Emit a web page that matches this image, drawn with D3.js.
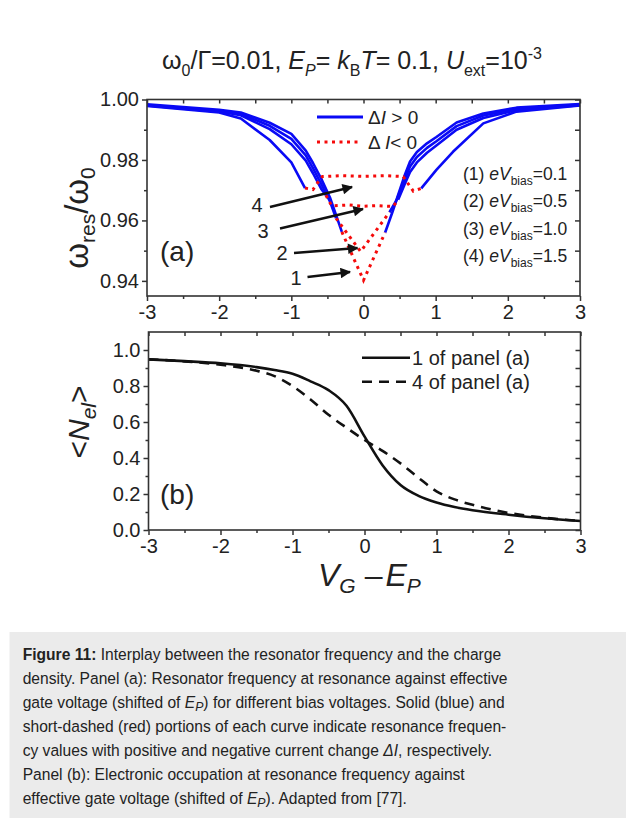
<!DOCTYPE html>
<html><head><meta charset="utf-8">
<script src="https://cdn.jsdelivr.net/npm/d3@7"></script>
<style>
html,body{margin:0;padding:0;background:#fff;}
svg{display:block;font-family:"Liberation Sans",Arial,sans-serif;}
</style></head><body>
<svg id="chart" width="626" height="818"></svg>
<script>
// ---------- data ----------
const xTicks = [-3, -2, -1, 0, 1, 2, 3];
const xMinor = [-2.5, -1.5, -0.5, 0.5, 1.5, 2.5];
const yTicksA = [0.94, 0.96, 0.98, 1.00];
const yMinorA = [0.95, 0.97, 0.99];
const yTicksB = [0.0, 0.2, 0.4, 0.6, 0.8, 1.0];
const yMinorB = [0.1, 0.3, 0.5, 0.7, 0.9];

// panel (a): blue = ΔI>0 portions, red = ΔI<0 portions
const c1BlueL = [[-3,0.9984],[-2,0.9966],[-1.7,0.9957],[-1.3,0.9923],[-1.0,0.9886],[-0.8,0.9831],[-0.7,0.9790],[-0.58,0.9735],[-0.46,0.9673],[-0.30,0.9562]];
const c1Red   = [[-0.30,0.9562],[0,0.9402],[0.30,0.9560]];
const c1BlueR = [[0.30,0.9560],[0.40,0.9627],[0.46,0.9670],[0.575,0.9752],[0.645,0.9795],[0.74,0.9826],[0.88,0.9855],[1.01,0.9876],[1.29,0.9924],[1.66,0.9954],[2.12,0.9973],[3,0.9985]];

const c2BlueL = [[-3,0.9982],[-2,0.9963],[-1.7,0.9953],[-1.3,0.9913],[-1.0,0.9870],[-0.8,0.9815],[-0.7,0.9773],[-0.58,0.9718],[-0.46,0.9660],[-0.38,0.9607]];
const c2Red   = [[-0.38,0.9607],[-0.04,0.9497],[0.36,0.9627]];
const c2BlueR = [[0.36,0.9627],[0.46,0.9668],[0.575,0.9738],[0.645,0.9778],[0.74,0.9810],[0.88,0.9840],[1.01,0.9862],[1.29,0.9912],[1.66,0.9947],[2.12,0.9969],[3,0.9983]];

const c3BlueL = [[-3,0.9980],[-2,0.9960],[-1.7,0.9948],[-1.3,0.9902],[-1.0,0.9852],[-0.8,0.9798],[-0.7,0.9756],[-0.58,0.9702],[-0.52,0.9683]];
const c3Red   = [[-0.52,0.9683],[-0.44,0.9648],[-0.2,0.9651],[0,0.9647],[0.2,0.9649],[0.41,0.9646],[0.48,0.9668]];
const c3BlueR = [[0.48,0.9668],[0.575,0.9722],[0.645,0.9760],[0.74,0.9792],[0.88,0.9824],[1.01,0.9848],[1.29,0.9900],[1.66,0.9939],[2.12,0.9965],[3,0.9981]];

const c4BlueL = [[-3,0.9979],[-2,0.9957],[-1.7,0.9937],[-1.3,0.9866],[-1.0,0.9792],[-0.81,0.9707]];
const c4Red   = [[-0.81,0.9707],[-0.70,0.9702],[-0.62,0.9730],[-0.57,0.9745],[-0.3,0.9748],[0,0.9746],[0.3,0.9748],[0.55,0.9745],[0.69,0.9697],[0.80,0.9706]];
const c4BlueR = [[0.80,0.9706],[1.01,0.9767],[1.24,0.9827],[1.66,0.9921],[2.12,0.9960],[3,0.9980]];

const biasLabels = ["0.1", "0.5", "1.0", "1.5"];
// arrows: [label, labelX, labelY, fromX, fromY, toX, toY] in data units
const arrowNotes = [
  ["4", -1.476, 0.9628, -1.296, 0.96444, -0.159, 0.97106],
  ["3", -1.393, 0.9542, -1.157, 0.95733, -0.007, 0.96378],
  ["2", -1.130, 0.9469, -0.963, 0.94922, -0.083, 0.95088],
  ["1", -0.935, 0.9386, -0.776, 0.94129, -0.187, 0.94294]
];

// panel (b): electronic occupation
const nX     = [-3, -2.5, -2, -1.5, -1.25, -1, -0.75, -0.5, -0.25, 0, 0.25, 0.5, 0.75, 1, 1.25, 1.5, 2, 2.5, 3];
const nSolid = [0.948, 0.938, 0.926, 0.905, 0.889, 0.868, 0.826, 0.777, 0.69, 0.52, 0.36, 0.25, 0.19, 0.153, 0.128, 0.11, 0.085, 0.065, 0.05];
const nDash  = [0.948, 0.937, 0.918, 0.885, 0.855, 0.80, 0.725, 0.64, 0.568, 0.50, 0.44, 0.37, 0.29, 0.215, 0.17, 0.14, 0.095, 0.068, 0.05];

// ---------- drawing ----------
const svg = d3.select("#chart");
const AX = "#333";
const BLUE = "#0a0af5", RED = "#f50a0a";

function rich(parent, x, y, segs, attrs) {
  const t = parent.append("text").attr("x", x).attr("y", y);
  Object.entries(attrs || {}).forEach(([k, v]) => t.attr(k, v));
  let cur = 0;
  segs.forEach(s => {
    const off = s.sh || 0;
    const ts = t.append("tspan").text(s.t).attr("dy", off - cur);
    cur = off;
    if (s.dx) ts.attr("dx", s.dx);
    if (s.size) ts.attr("font-size", s.size);
    if (s.i) ts.attr("font-style", "italic");
    if (s.b) ts.attr("font-weight", "bold");
  });
  return t;
}

function styleAxis(g, fs) {
  g.select(".domain").remove();
  g.selectAll(".tick line").attr("stroke", AX).attr("stroke-width", 1.5);
  g.selectAll(".tick text").attr("fill", "#222").attr("font-size", fs).attr("font-family", "Liberation Sans, Arial, sans-serif");
}

function frame(x, y, xt, xm, yt, ym, yfmt) {
  const [x0, x1] = x.range(), [y0, y1] = y.range();
  const g = svg.append("g");
  const gb = g.append("g").attr("transform", `translate(0,${y0})`)
    .call(d3.axisBottom(x).tickValues(xt).tickSize(5).tickPadding(4).tickFormat(d => String(d)));
  styleAxis(gb, 20);
  const gbm = g.append("g").attr("transform", `translate(0,${y0})`)
    .call(d3.axisBottom(x).tickValues(xm).tickSize(3).tickFormat(""));
  styleAxis(gbm, 20);
  const gt = g.append("g").attr("transform", `translate(0,${y1})`)
    .call(d3.axisBottom(x).tickValues(xt.concat(xm)).tickSize(4).tickFormat(""));
  styleAxis(gt, 20);
  const gl = g.append("g").attr("transform", `translate(${x0},0)`)
    .call(d3.axisLeft(y).tickValues(yt).tickSize(5).tickPadding(3).tickFormat(yfmt));
  styleAxis(gl, 20);
  const glm = g.append("g").attr("transform", `translate(${x0},0)`)
    .call(d3.axisLeft(y).tickValues(ym).tickSize(3).tickFormat(""));
  styleAxis(glm, 20);
  const gr = g.append("g").attr("transform", `translate(${x1},0)`)
    .call(d3.axisLeft(y).tickValues(yt.concat(ym)).tickSize(5).tickFormat(""));
  styleAxis(gr, 20);
  g.append("rect").attr("x", x0).attr("y", y1).attr("width", x1 - x0).attr("height", y0 - y1)
    .attr("fill", "none").attr("stroke", AX).attr("stroke-width", 1.6);
}

// title
rich(svg, 162, 69, [
  {t: "ω"}, {t: "0", sh: 7, size: 16}, {t: "/Γ=0.01, "},
  {t: "E", i: 1}, {t: "P", i: 1, sh: 7, size: 16}, {t: "= "},
  {t: "k", i: 1}, {t: "B", sh: 7, size: 16}, {t: "T", i: 1}, {t: "= 0.1, "},
  {t: "U", i: 1}, {t: "ext", sh: 7, size: 16}, {t: "=10"}, {t: "-3", sh: -10, size: 16}
], {"font-size": 25, fill: "#222"});

// ----- panel (a) -----
const xA = d3.scaleLinear().domain([-3, 3]).range([147, 580]);
const yA = d3.scaleLinear().domain([0.935, 1.0]).range([296, 99.5]);
const lineA = d3.line().x(d => xA(d[0])).y(d => yA(d[1]));

const gA = svg.append("g");
const blueSets = [c1BlueL, c1BlueR, c2BlueL, c2BlueR, c3BlueL, c3BlueR, c4BlueL, c4BlueR];
const redSets = [c1Red, c2Red, c3Red, c4Red];
gA.selectAll("path.blue").data(blueSets).join("path").attr("class", "blue")
  .attr("d", lineA).attr("fill", "none").attr("stroke", BLUE).attr("stroke-width", 2.6)
  .attr("stroke-linejoin", "round");
gA.selectAll("path.red").data(redSets).join("path").attr("class", "red")
  .attr("d", lineA).attr("fill", "none").attr("stroke", RED).attr("stroke-width", 3)
  .attr("stroke-dasharray", "3 4.5");

frame(xA, yA, xTicks, xMinor, yTicksA, yMinorA, d3.format(".2f"));

// legend (a)
gA.append("line").attr("x1", 317).attr("x2", 363).attr("y1", 117).attr("y2", 117)
  .attr("stroke", BLUE).attr("stroke-width", 2.8);
rich(gA, 368, 124, [{t: "Δ"}, {t: "I", i: 1}, {t: " > 0"}], {"font-size": 19, fill: "#222"});
gA.append("line").attr("x1", 317).attr("x2", 360).attr("y1", 142).attr("y2", 142)
  .attr("stroke", RED).attr("stroke-width", 3).attr("stroke-dasharray", "3 4.5");
rich(gA, 368, 149, [{t: "Δ "}, {t: "I", i: 1}, {t: "< 0"}], {"font-size": 19, fill: "#222"});

// bias labels
biasLabels.forEach((b, i) => {
  rich(gA, 463, 180 + i * 27.3, [
    {t: `(${i + 1}) `}, {t: "eV", i: 1}, {t: "bias", sh: 5, size: 12}, {t: "=" + b}
  ], {"font-size": 17.5, fill: "#222"});
});

// arrows
const defs = svg.append("defs");
defs.append("marker").attr("id", "ah").attr("viewBox", "0 0 10 10").attr("refX", 9).attr("refY", 5)
  .attr("markerWidth", 6).attr("markerHeight", 4.4).attr("orient", "auto")
  .attr("markerUnits", "strokeWidth")
  .append("path").attr("d", "M0,0 L10,5 L0,10 Z").attr("fill", "#111");
arrowNotes.forEach(a => {
  gA.append("line").attr("x1", xA(a[3])).attr("y1", yA(a[4])).attr("x2", xA(a[5])).attr("y2", yA(a[6]))
    .attr("stroke", "#111").attr("stroke-width", 2.4).attr("marker-end", "url(#ah)");
  gA.append("text").attr("x", xA(a[1])).attr("y", yA(a[2])).attr("text-anchor", "middle")
    .attr("font-size", 20).attr("fill", "#222").text(a[0]);
});

gA.append("text").attr("x", 160).attr("y", 261).attr("font-size", 28).attr("fill", "#222").text("(a)");

// y label (a)
rich(svg, 0, 0, [
  {t: "ω"}, {t: "res", sh: 7, size: 21}, {t: "/ω"}, {t: "0", sh: 7, size: 21}
], {"font-size": 33, fill: "#222", "text-anchor": "middle", transform: "translate(88,218) rotate(-90)"});

// ----- panel (b) -----
const xB = d3.scaleLinear().domain([-3, 3]).range([148.5, 580.5]);
const yB = d3.scaleLinear().domain([0, 1.1]).range([530, 332]);
const lineB = d3.line().curve(d3.curveMonotoneX).x((d, i) => xB(nX[i])).y(d => yB(d));
const gB = svg.append("g");
gB.append("path").datum(nSolid).attr("d", lineB).attr("fill", "none").attr("stroke", "#111").attr("stroke-width", 2.6);
gB.append("path").datum(nDash).attr("d", lineB).attr("fill", "none").attr("stroke", "#111").attr("stroke-width", 2.6)
  .attr("stroke-dasharray", "10 7");

frame(xB, yB, xTicks, xMinor, yTicksB, yMinorB, d3.format(".1f"));

gB.append("line").attr("x1", 362).attr("x2", 410).attr("y1", 357.7).attr("y2", 357.7).attr("stroke", "#111").attr("stroke-width", 2.6);
gB.append("text").attr("x", 412).attr("y", 365).attr("font-size", 20).attr("fill", "#222").text("1 of panel (a)");
gB.append("line").attr("x1", 362).attr("x2", 410).attr("y1", 381.7).attr("y2", 381.7).attr("stroke", "#111").attr("stroke-width", 2.6)
  .attr("stroke-dasharray", "10 7");
gB.append("text").attr("x", 412).attr("y", 389).attr("font-size", 20).attr("fill", "#222").text("4 of panel (a)");

gB.append("text").attr("x", 160).attr("y", 504).attr("font-size", 28).attr("fill", "#222").text("(b)");

rich(svg, 0, 0, [
  {t: "<"}, {t: "N", i: 1}, {t: "el", i: 1, sh: 7, size: 21}, {t: ">"}
], {"font-size": 30, fill: "#222", "text-anchor": "middle", transform: "translate(89,422) rotate(-90)"});

// x label
rich(svg, 318, 586, [
  {t: "V", i: 1}, {t: "G", i: 1, sh: 7, size: 21}, {t: "–", dx: 9}, {t: "E", i: 1, dx: 3}, {t: "P", i: 1, sh: 7, size: 21}
], {"font-size": 32, fill: "#222"});

// ---------- caption ----------
svg.append("rect").attr("x", 9.5).attr("y", 632).attr("width", 626 - 9.5).attr("height", 818 - 632).attr("fill", "#ebebeb");
const captionLines = [
  [{t: "Figure 11:", b: 1}, {t: " Interplay between the resonator frequency and the charge"}],
  [{t: "density. Panel (a): Resonator frequency at resonance against effective"}],
  [{t: "gate voltage (shifted of "}, {t: "E", i: 1}, {t: "P", i: 1, sh: 3, size: 13}, {t: ") for different bias voltages. Solid (blue) and", sh: 0}],
  [{t: "short-dashed (red) portions of each curve indicate resonance frequen-"}],
  [{t: "cy values with positive and negative current change "}, {t: "ΔI", i: 1}, {t: ", respectively."}],
  [{t: "Panel (b): Electronic occupation at resonance frequency against"}],
  [{t: "effective gate voltage (shifted of "}, {t: "E", i: 1}, {t: "P", i: 1, sh: 3, size: 13}, {t: "). Adapted from [77].", sh: 0}]
];
const cap = svg.append("g");
captionLines.forEach((segs, i) => {
  rich(cap, 0, 660 + i * 24, segs, {"font-size": 16.5, fill: "#222"});
});
const w2 = cap.selectAll("text").nodes()[1].getComputedTextLength();
const f = 485 / w2;
cap.attr("transform", `translate(22.7,0) scale(${f},1)`);
</script>
</body></html>
